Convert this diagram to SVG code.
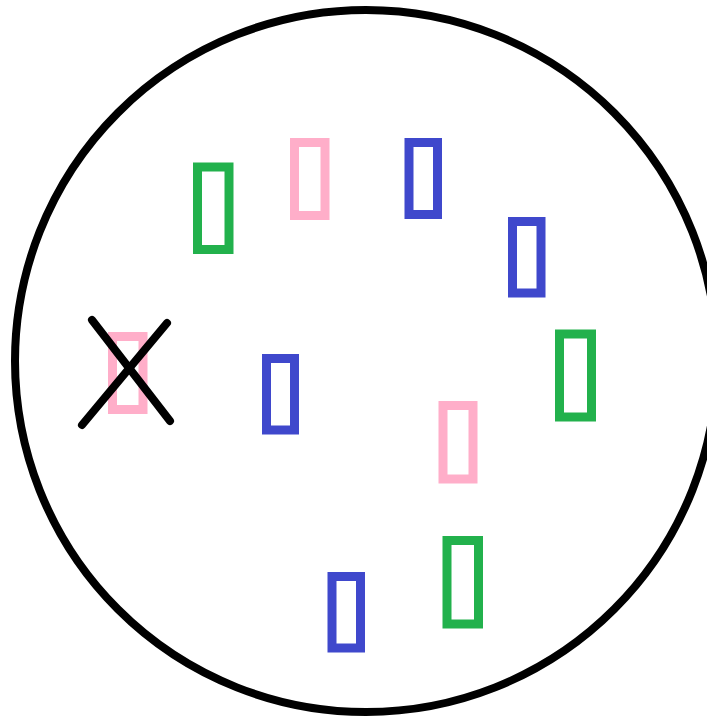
<svg xmlns="http://www.w3.org/2000/svg" width="707" height="717" viewBox="0 0 707 717">
<style>
.g{fill:none;stroke:#22b14c;stroke-width:9}
.p{fill:none;stroke:#ffaec9;stroke-width:9}
.b{fill:none;stroke:#3f48cc;stroke-width:9}
.k{fill:none;stroke:#000;stroke-width:8;stroke-linecap:round}
</style>
<rect width="707" height="717" fill="#fff"/>
<circle cx="366" cy="361" r="351" fill="none" stroke="#000" stroke-width="8"/>
<g id="green1"><rect class="g" x="197.5" y="167" width="31.5" height="82.5"/></g>
<g id="pink1"><rect class="p" x="294.5" y="142.5" width="30.5" height="73"/></g>
<g id="blue1"><rect class="b" x="409" y="142.5" width="28.5" height="72"/></g>
<g id="blue2"><rect class="b" x="512.5" y="221.5" width="28.5" height="71.5"/></g>
<g id="green2"><rect class="g" x="559.5" y="334" width="32" height="83"/></g>
<g id="pink2"><rect class="p" x="112.5" y="336.5" width="30.5" height="73"/></g>
<g id="cross"><line class="k" x1="92" y1="320" x2="170" y2="421"/><line class="k" x1="167" y1="323" x2="82" y2="425"/></g>
<g id="blue3"><rect class="b" x="266.5" y="358.5" width="28" height="71.5"/></g>
<g id="pink3"><rect class="p" x="443" y="405.5" width="30" height="73.5"/></g>
<g id="green3"><rect class="g" x="447" y="540.5" width="31.5" height="83.5"/></g>
<g id="blue4"><rect class="b" x="332" y="576.5" width="28.5" height="71.5"/></g>
</svg>
